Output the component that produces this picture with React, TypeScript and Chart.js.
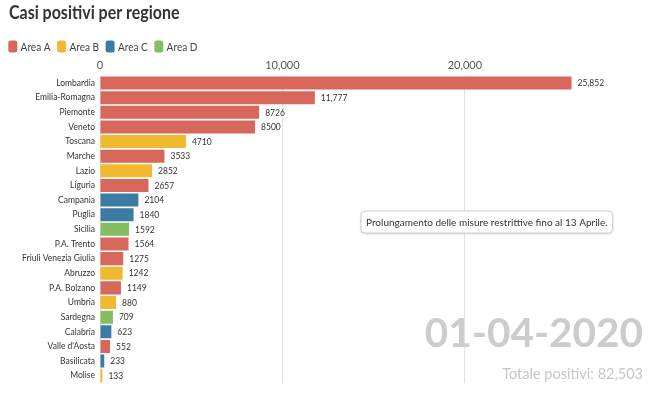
import { useEffect, useRef } from 'react';
import { Chart, registerables } from 'chart.js';

Chart.register(...registerables);

const regions = ['Lombardia', 'Emilia-Romagna', 'Piemonte', 'Veneto', 'Toscana', 'Marche', 'Lazio', 'Liguria', 'Campania', 'Puglia', 'Sicilia', 'P.A. Trento', 'Friuli Venezia Giulia', 'Abruzzo', 'P.A. Bolzano', 'Umbria', 'Sardegna', 'Calabria', "Valle d'Aosta", 'Basilicata', 'Molise'];
const values = [25852, 11777, 8726, 8500, 4710, 3533, 2852, 2657, 2104, 1840, 1592, 1564, 1275, 1242, 1149, 880, 709, 623, 552, 233, 133];
const regionAreas = ['A', 'A', 'A', 'A', 'B', 'A', 'B', 'A', 'C', 'C', 'D', 'A', 'A', 'B', 'A', 'B', 'D', 'C', 'A', 'C', 'B'];
const areaKeys = ['A', 'B', 'C', 'D'];
const areaLabels = ['Area A', 'Area B', 'Area C', 'Area D'];
const areaColors = ['#d6675a', '#f0b92f', '#3b7ba4', '#85bd63'];
const xTicks = [0, 10000, 20000];
const titleText = 'Casi positivi per regione';
const noteText = 'Prolungamento delle misure restrittive fino al 13 Aprile.';
const dateText = '01-04-2020';
const totalText = 'Totale positivi: 82,503';

const FONT = 'Lato, "Open Sans", sans-serif';

const colorOf = (a: string) => areaColors[areaKeys.indexOf(a)];
const fmt = (v: number) => (v >= 10000 ? v.toLocaleString('en-US') : String(v));

function squeezeText(ctx: CanvasRenderingContext2D, text: string, x: number, y: number, sx: number) {
  ctx.save();
  ctx.translate(x, y);
  ctx.scale(sx, 1);
  ctx.fillText(text, 0, 0);
  ctx.restore();
  return ctx.measureText(text).width * sx;
}

const overlay = {
  id: 'overlay',
  afterDraw(chart: any) {
    const ctx = chart.ctx as CanvasRenderingContext2D;
    ctx.save();
    // title
    ctx.fillStyle = '#333333';
    ctx.font = `bold 18px ${FONT}`;
    ctx.textBaseline = 'alphabetic';
    ctx.textAlign = 'left';
    squeezeText(ctx, titleText, 9, 19, 0.887);
    // legend
    let lx = 8.3;
    ctx.font = `12px ${FONT}`;
    ctx.textBaseline = 'middle';
    areaLabels.forEach((lab, i) => {
      ctx.fillStyle = areaColors[i];
      ctx.beginPath();
      (ctx as any).roundRect(lx, 40.5, 9, 12, 2.5);
      ctx.fill();
      ctx.fillStyle = '#444444';
      const w = squeezeText(ctx, lab, lx + 12.3, 47, 0.84);
      lx += 12.3 + w + 6.5;
    });
    // value labels
    const meta = chart.getDatasetMeta(0);
    ctx.font = `8.5px ${FONT}`;
    ctx.fillStyle = '#333333';
    ctx.textBaseline = 'middle';
    meta.data.forEach((el: any, i: number) => {
      ctx.fillText(fmt(values[i]), el.x + 6, el.y + 0.5);
    });
    // annotation
    ctx.font = `10px ${FONT}`;
    const tw = ctx.measureText(noteText).width;
    const bx = 361, by = 211, bw = tw + 10, bh = 22;
    ctx.shadowColor = 'rgba(0,0,0,0.18)';
    ctx.shadowBlur = 3;
    ctx.shadowOffsetY = 1;
    ctx.fillStyle = '#ffffff';
    ctx.beginPath();
    (ctx as any).roundRect(bx, by, bw, bh, 4);
    ctx.fill();
    ctx.shadowColor = 'transparent';
    ctx.strokeStyle = '#cfcfcf';
    ctx.lineWidth = 1;
    ctx.stroke();
    ctx.fillStyle = '#333333';
    ctx.fillText(noteText, bx + 5, by + bh / 2 + 0.5);
    // date
    ctx.textAlign = 'right';
    ctx.textBaseline = 'alphabetic';
    ctx.fillStyle = '#cccccc';
    ctx.font = `bold 40.5px ${FONT}`;
    ctx.fillText(dateText, 643, 347);
    ctx.font = `14.5px ${FONT}`;
    ctx.fillStyle = '#c6c6c6';
    ctx.fillText(totalText, 643, 379);
    ctx.restore();
  },
};

export default function App() {
  const ref = useRef<HTMLCanvasElement>(null);
  useEffect(() => {
    if (!ref.current) return;
    const chart = new Chart(ref.current, {
      type: 'bar',
      data: {
        labels: regions,
        datasets: [
          {
            data: values,
            backgroundColor: regionAreas.map(colorOf),
            borderWidth: 0,
            barPercentage: 0.89,
            categoryPercentage: 1,
          },
        ],
      },
      options: {
        indexAxis: 'y',
        responsive: false,
        animation: false,
        layout: { padding: { top: 54.5, right: 21, bottom: 16, left: 0 } },
        plugins: { legend: { display: false }, tooltip: { enabled: false }, title: { display: false } },
        scales: {
          x: {
            position: 'top',
            min: 0,
            max: 29000,
            afterBuildTicks: (s: any) => {
              s.ticks = xTicks.map((v) => ({ value: v }));
            },
            grid: { color: '#e2e2e2', drawTicks: false },
            border: { display: false },
            ticks: {
              padding: 4,
              color: '#555555',
              font: { family: FONT, size: 11 },
              callback: (v: any) => Number(v).toLocaleString('en-US'),
            },
          },
          y: {
            afterFit: (s: any) => {
              s.width = 100;
            },
            grid: { display: false, drawTicks: false },
            border: { display: false },
            ticks: { padding: 5, color: '#333333', font: { family: FONT, size: 8.5 }, autoSkip: false },
          },
        },
      },
      plugins: [overlay],
    });
    return () => chart.destroy();
  }, []);
  return (
    <div style={{ position: 'fixed', left: 0, top: 0, width: 650, height: 399, background: '#ffffff' }}>
      <canvas ref={ref} width={650} height={399} />
    </div>
  );
}
